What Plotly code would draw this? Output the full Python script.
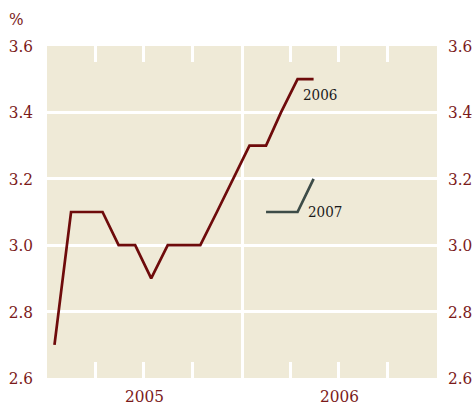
import plotly.graph_objects as go

# Data: monthly forecasts (%), plotted mid-month
months_2006 = ["2005-01-15", "2005-02-15", "2005-03-15", "2005-04-15", "2005-05-15",
               "2005-06-15", "2005-07-15", "2005-08-15", "2005-09-15", "2005-10-15",
               "2005-11-15", "2005-12-15", "2006-01-15", "2006-02-15", "2006-03-15",
               "2006-04-15", "2006-05-15"]
values_2006 = [2.7, 3.1, 3.1, 3.1, 3.0, 3.0, 2.9, 3.0, 3.0, 3.0,
               3.1, 3.2, 3.3, 3.3, 3.4, 3.5, 3.5]

months_2007 = ["2006-02-15", "2006-03-15", "2006-04-15", "2006-05-15"]
values_2007 = [3.1, 3.1, 3.1, 3.2]

y_ticks = [2.6, 2.8, 3.0, 3.2, 3.4, 3.6]
y_labels = ["2.6", "2.8", "3.0", "3.2", "3.4", "3.6"]

RED = "#6e0b0b"
GREY = "#3d4c48"
LABEL = "#7b1a1a"
BG = "#efead7"
FONT = "DejaVu Serif Condensed, DejaVu Serif, serif"

fig = go.Figure()
fig.add_trace(go.Scatter(x=months_2006, y=values_2006, mode="lines",
                         line=dict(color=RED, width=2.7), name="2006"))
fig.add_trace(go.Scatter(x=months_2007, y=values_2007, mode="lines",
                         line=dict(color=GREY, width=2.7), name="2007"))
# invisible traces to carry the right-hand axis and the top tick axis
fig.add_trace(go.Scatter(x=months_2006, y=values_2006, mode="lines", yaxis="y2",
                         line=dict(width=0), opacity=0, hoverinfo="skip", showlegend=False))
fig.add_trace(go.Scatter(x=months_2006, y=values_2006, mode="lines", xaxis="x2",
                         line=dict(width=0), opacity=0, hoverinfo="skip", showlegend=False))

xrange = ["2005-01-01", "2007-01-01"]
fig.update_layout(
    width=474, height=408,
    margin=dict(l=47, r=37, t=46, b=30),
    paper_bgcolor="white", plot_bgcolor=BG,
    showlegend=False,
    font=dict(family=FONT, color=LABEL, size=17),
    xaxis=dict(range=xrange, type="date", dtick="M12", tick0="2005-01-01",
               tickformat="%Y", ticklabelmode="period", automargin=False,
               showgrid=True, gridcolor="white", gridwidth=3,
               ticks="", showline=False, zeroline=False,
               tickfont=dict(family=FONT, size=17, color=LABEL),
               ticklabelstandoff=6,
               minor=dict(dtick="M3", tick0="2005-01-01", ticks="inside", ticklen=16,
                          tickwidth=3, tickcolor="white", showgrid=False)),
    xaxis2=dict(range=xrange, type="date", overlaying="x", side="top", anchor="y",
                dtick="M3", tick0="2005-01-01", ticks="inside", ticklen=16,
                tickwidth=3, tickcolor="white", showticklabels=False,
                showgrid=False, zeroline=False, showline=False, automargin=False),
    yaxis=dict(range=[2.6, 3.6], tickvals=y_ticks, ticktext=y_labels, automargin=False,
               showgrid=True, gridcolor="white", gridwidth=3, zeroline=False,
               ticks="", showline=False, ticklabelstandoff=13,
               tickfont=dict(family=FONT, size=17, color=LABEL)),
    yaxis2=dict(range=[2.6, 3.6], tickvals=y_ticks, ticktext=y_labels, automargin=False,
                overlaying="y", side="right", showgrid=False, zeroline=False,
                ticks="", showline=False, ticklabelstandoff=10,
                tickfont=dict(family=FONT, size=17, color=LABEL)),
)

fig.add_annotation(x=months_2006[-1], y=values_2006[-1], text="2006", showarrow=False,
                   xanchor="left", yanchor="middle", xshift=-13, yshift=-16,
                   font=dict(family=FONT, size=15, color="#1a1a1a"))
fig.add_annotation(x=months_2007[-2], y=values_2007[-2], text="2007", showarrow=False,
                   xanchor="left", yanchor="middle", xshift=8, yshift=0,
                   font=dict(family=FONT, size=15, color="#1a1a1a"))
fig.add_annotation(xref="paper", yref="paper", x=-40/390, y=1 + 27/332, text="%",
                   showarrow=False, xanchor="left", yanchor="middle",
                   font=dict(family=FONT, size=17, color=LABEL))

fig.write_html("out.html", config={"displayModeBar": False},
               post_script="document.body.style.margin='0';document.body.style.overflow='hidden';")
